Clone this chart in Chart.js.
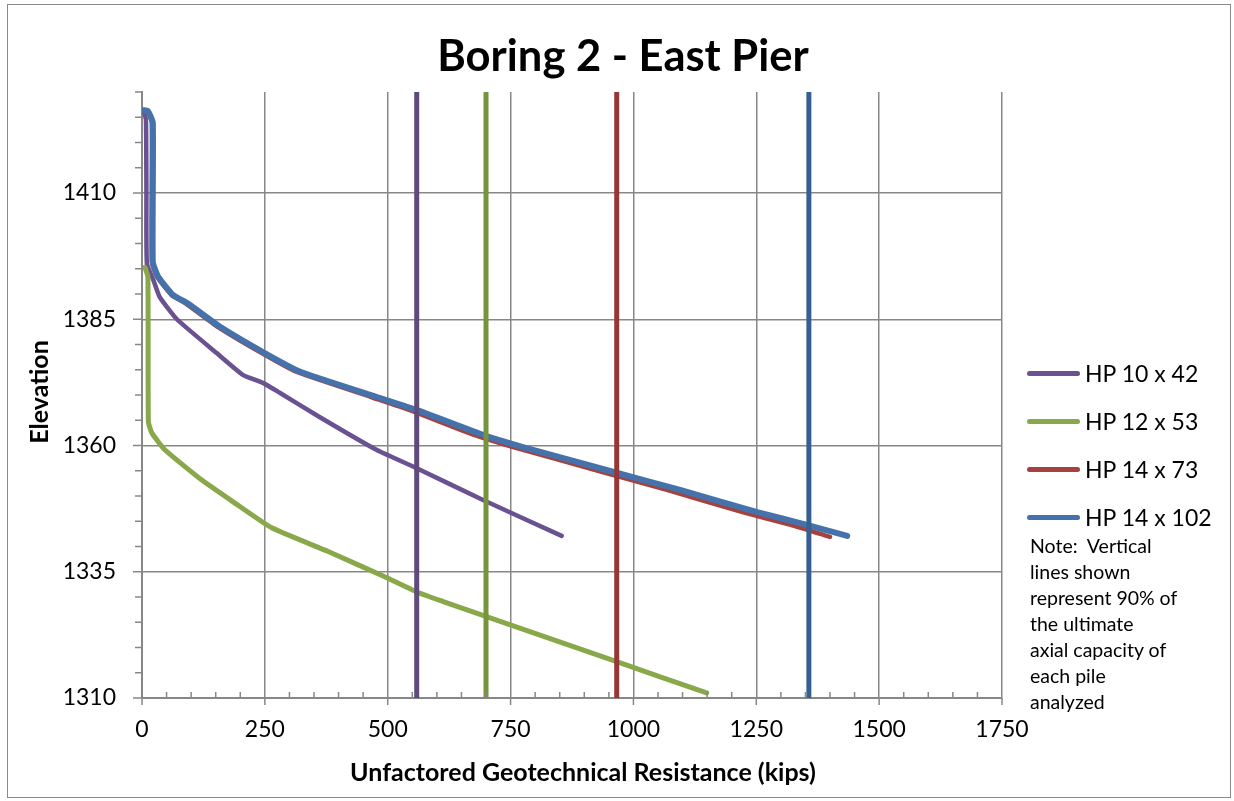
<!DOCTYPE html>
<html>
<head>
<meta charset="utf-8">
<title>Boring 2 - East Pier</title>
<script src="https://cdn.jsdelivr.net/npm/chart.js@4.4.1/dist/chart.umd.min.js"></script>
<style>
  html, body { margin: 0; padding: 0; background: #fff; }
  #wrap { position: relative; width: 1234px; height: 801px; overflow: hidden; font-family: Lato, "Open Sans", sans-serif; color: #000; }
  #chart { position: absolute; left: 0; top: 0; }
  .frame { position: absolute; left: 7px; top: 4px; width: 1224px; height: 794px; border: 1.5px solid #8a8a8a; box-sizing: border-box; pointer-events: none; }
  .t { position: absolute; white-space: nowrap; line-height: 1; }
  .mid { transform: translate(-50%, -50%); }
  .leg { position: absolute; left: 1027px; width: 53px; height: 5px; border-radius: 3px; }
  .legtxt { position: absolute; left: 1085px; font-size: 23px; line-height: 1; transform: translateY(-50%); white-space: nowrap; }
  .note { position: absolute; left: 1030px; font-size: 19.5px; line-height: 1; transform: translateY(-50%); white-space: pre; }
</style>
</head>
<body>
<div id="wrap">
  <canvas id="chart" width="1234" height="801"></canvas>
  <div class="frame"></div>
  <div class="t mid" style="left:623px; top:55px; font-size:43.5px; font-weight:700;">Boring 2 - East Pier</div>
  <div class="t mid" style="left:583px; top:771px; font-size:25px; font-weight:700;">Unfactored Geotechnical Resistance (kips)</div>
  <div class="t" style="left:38px; top:392px; font-size:25px; font-weight:700; transform: translate(-50%, -50%) rotate(-90deg);">Elevation</div>
  <div id="legend"></div>
</div>
<script>
// Pile resistance curves: resistance (kips) against elevation
const hp10x42Kips  = [3, 8, 9, 10, 23, 36, 71, 152, 205, 246, 281, 362, 478, 559, 694, 854];
const hp10x42Elev  = [1426.4, 1424.5, 1410, 1396, 1392.8, 1389.4, 1385, 1378.3, 1374, 1372.4, 1370.4, 1365.6, 1359.1, 1355.5, 1349.2, 1342.1];

const hp12x53Kips  = [6, 12, 13, 20, 47, 121, 189, 264, 379, 494, 559, 613, 701, 966, 1149];
const hp12x53Elev  = [1395.3, 1393.4, 1364.7, 1362.5, 1359.1, 1353.2, 1348.6, 1343.7, 1339.0, 1334.0, 1331.0, 1329.1, 1326.1, 1317.2, 1311.0];

const hp14x73Kips  = [2, 12, 20, 20, 31, 60, 88, 154, 240, 314, 466, 545, 676, 755, 935, 1068, 1222, 1320, 1400];
const hp14x73Elev  = [1426.4, 1426.2, 1423.9, 1396.3, 1393.4, 1389.8, 1388.2, 1383.5, 1378.5, 1374.6, 1369.6, 1367.0, 1362.1, 1359.7, 1354.8, 1351.2, 1346.8, 1344.3, 1341.9];

const hp14x102Kips = [2, 12, 22, 22, 33, 63, 92, 159, 246, 322, 478, 560, 694, 775, 958, 1095, 1252, 1353, 1435];
const hp14x102Elev = [1426.4, 1426.2, 1423.9, 1396.3, 1393.4, 1389.8, 1388.2, 1383.5, 1378.5, 1374.6, 1369.6, 1367.0, 1362.1, 1359.7, 1354.8, 1351.2, 1346.8, 1344.3, 1342.1];

// 90% of ultimate axial capacity for each pile (kips)
const capacityKips = [559, 700, 966, 1357];
const capacitySpan = [1310, 1430];

const pileNames = ["HP 10 x 42", "HP 12 x 53", "HP 14 x 73", "HP 14 x 102"];
const xTickValues = [0, 250, 500, 750, 1000, 1250, 1500, 1750];
const yTickValues = [1310, 1335, 1360, 1385, 1410];
const noteLines = ["Note:  Vertical", "lines shown", "represent 90% of", "the ultimate", "axial capacity of", "each pile", "analyzed"];

const curveColors = ["#6a5192", "#89a84a", "#a6423e", "#4672ab"];
const capColors   = ["#5f4a7c", "#77933c", "#953735", "#376092"];
const curveWidths = [4.5, 5, 4.5, 6];

function toPoints(xs, ys) { return xs.map((x, i) => ({ x: x, y: ys[i] })); }

const curves = [
  toPoints(hp10x42Kips, hp10x42Elev),
  toPoints(hp12x53Kips, hp12x53Elev),
  toPoints(hp14x73Kips, hp14x73Elev),
  toPoints(hp14x102Kips, hp14x102Elev)
];
const curveOrder = [5, 4, 3, 2];

const datasets = [];
curves.forEach((pts, i) => {
  datasets.push({
    label: pileNames[i],
    data: pts,
    showLine: true,
    borderColor: curveColors[i],
    backgroundColor: curveColors[i],
    borderWidth: curveWidths[i],
    pointRadius: 0,
    tension: 0.15,
    borderCapStyle: "round",
    borderJoinStyle: "round",
    order: curveOrder[i]
  });
});
capacityKips.forEach((k, i) => {
  datasets.push({
    label: pileNames[i] + " capacity",
    data: capacitySpan.map(e => ({ x: k, y: e })),
    showLine: true,
    borderColor: capColors[i],
    backgroundColor: capColors[i],
    borderWidth: 5,
    pointRadius: 0,
    borderCapStyle: "butt",
    order: 1
  });
});

const GRID = "#878787";

// Major / minor tick marks drawn on both axes
const tickMarks = {
  id: "tickMarks",
  afterDraw(chart) {
    const { ctx, scales: { x, y } } = chart;
    ctx.save();
    ctx.strokeStyle = GRID;
    ctx.lineWidth = 1.5;
    const xMinor = 50;
    for (let v = x.min; v <= x.max + 1e-6; v += xMinor) {
      const px = x.getPixelForValue(v);
      ctx.beginPath();
      if (xTickValues.includes(v)) { ctx.moveTo(px, y.bottom); ctx.lineTo(px, y.bottom + 7); }
      else { ctx.moveTo(px, y.bottom - 6); ctx.lineTo(px, y.bottom); }
      ctx.stroke();
    }
    y.ticks.forEach(t => {
      const py = y.getPixelForValue(t.value);
      ctx.beginPath();
      if (yTickValues.includes(t.value)) { ctx.moveTo(x.left - 9, py); ctx.lineTo(x.left, py); }
      else { ctx.moveTo(x.left - 7, py); ctx.lineTo(x.left, py); }
      ctx.stroke();
    });
    ctx.restore();
  }
};

new Chart(document.getElementById("chart"), {
  type: "scatter",
  data: { datasets: datasets },
  plugins: [tickMarks],
  options: {
    responsive: false,
    animation: false,
    events: [],
    layout: { padding: { left: 0, top: 92, right: 232, bottom: 0 } },
    plugins: { legend: { display: false }, title: { display: false }, tooltip: { enabled: false } },
    scales: {
      x: {
        type: "linear",
        min: 0, max: 1750,
        afterFit(s) { s.height = 103; },
        afterBuildTicks(s) { s.ticks = xTickValues.map(v => ({ value: v })); },
        ticks: { padding: 18, color: "#000", font: { family: "Lato", size: 23 }, autoSkip: false, maxRotation: 0, callback: v => String(v) },
        grid: { drawTicks: false, color: c => (c.tick && c.tick.value === 0) ? "rgba(0,0,0,0)" : GRID, lineWidth: 1.5 },
        border: { color: GRID, width: 2 }
      },
      y: {
        type: "linear",
        min: 1310, max: 1430,
        afterFit(s) { s.width = 142; },
        ticks: {
          stepSize: 5, autoSkip: false, padding: 26, color: "#000",
          font: { family: "Lato", size: 23 },
          callback: v => yTickValues.includes(v) ? String(v) : ""
        },
        grid: { drawTicks: false, color: c => (c.tick && yTickValues.includes(c.tick.value) && c.tick.value !== 1310) ? GRID : "rgba(0,0,0,0)", lineWidth: 1.5 },
        border: { color: GRID, width: 2 }
      }
    }
  }
});

// Legend and note beside the plot
const legend = document.getElementById("legend");
const legendRows = [373, 421, 469, 517];
pileNames.forEach((name, i) => {
  const line = document.createElement("div");
  line.className = "leg";
  line.style.top = (legendRows[i] - 2.5) + "px";
  line.style.background = curveColors[i];
  legend.appendChild(line);
  const txt = document.createElement("div");
  txt.className = "legtxt";
  txt.style.top = legendRows[i] + "px";
  txt.textContent = name;
  legend.appendChild(txt);
});
noteLines.forEach((s, i) => {
  const d = document.createElement("div");
  d.className = "note";
  d.style.top = (546 + i * 26) + "px";
  d.textContent = s;
  legend.appendChild(d);
});
</script>
</body>
</html>
